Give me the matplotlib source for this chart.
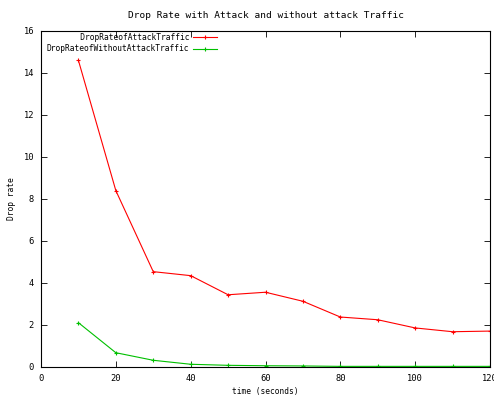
import matplotlib
matplotlib.use("Agg")
import matplotlib.pyplot as plt

# drop rate per 10 s interval
time_s = [10, 20, 30, 40, 50, 60, 70, 80, 90, 100, 110, 120]
drop_attack = [14.6, 8.4, 4.54, 4.35, 3.44, 3.56, 3.13, 2.38, 2.25, 1.86, 1.68, 1.71]
drop_no_attack = [2.11, 0.68, 0.32, 0.13, 0.08, 0.06, 0.05, 0.03, 0.03, 0.03, 0.03, 0.03]

x_ticks = [0, 20, 40, 60, 80, 100, 120]
y_ticks = [0, 2, 4, 6, 8, 10, 12, 14, 16]

plt.rcParams['font.family'] = ['DejaVu Sans Mono']
plt.rcParams['font.size'] = 5.7

fig = plt.figure(figsize=(4.94, 3.99), dpi=100)
ax = fig.add_axes([41 / 494, 32 / 399, 449 / 494, 336 / 399])

# pad shorter label so both right-align next to the line samples
lbl_a = "DropRateofAttackTraffic"
lbl_b = "DropRateofWithoutAttackTraffic"
lbl_a = lbl_a.rjust(len(lbl_b))

ax.plot(time_s, drop_attack, color='#ff0000', lw=0.8, marker='+', ms=3, mew=0.8, label=lbl_a)
ax.plot(time_s, drop_no_attack, color='#00c000', lw=0.8, marker='+', ms=3, mew=0.8, label=lbl_b)

ax.set_xlim(0, 120)
ax.set_ylim(0, 16)
ax.set_xticks(x_ticks)
ax.set_yticks(y_ticks)
ax.tick_params(direction='in', top=True, right=True, length=4, width=0.6, pad=5,
               labelsize=6.3)
for s in ax.spines.values():
    s.set_linewidth(0.8)

ax.set_title("Drop Rate with Attack and without attack Traffic", pad=9)
ax.set_xlabel("time (seconds)", labelpad=3)
ax.set_ylabel("Drop rate")
ax.yaxis.set_label_coords(-0.056, 0.5)

ax.legend(loc='upper left', bbox_to_anchor=(0.0, 1.012), frameon=False,
          markerfirst=False, handlelength=3.0, handletextpad=0.5,
          labelspacing=0.35, borderaxespad=0.3)

fig.savefig("out.png", dpi=100)
